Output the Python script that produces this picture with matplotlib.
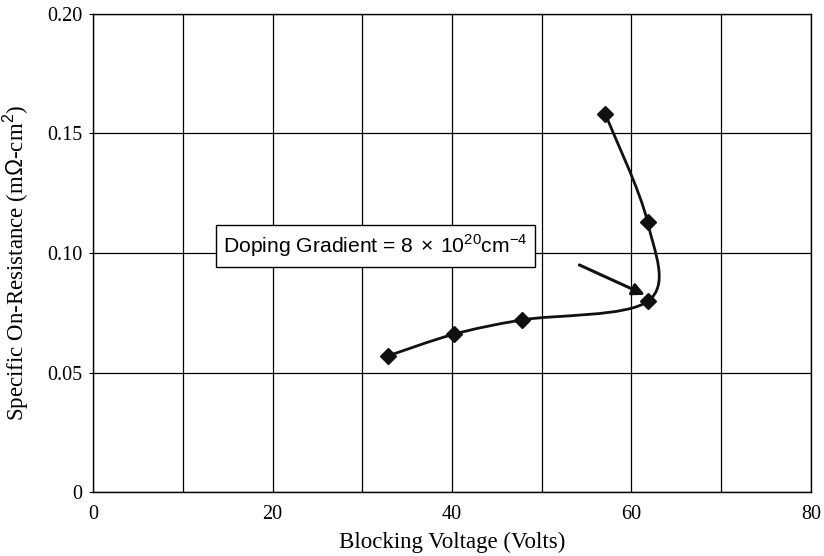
import numpy as np
import matplotlib
matplotlib.use("Agg")
import matplotlib.pyplot as plt
from matplotlib.path import Path
from matplotlib.patches import PathPatch

# data
blocking_voltage = [32.9, 40.2, 47.8, 61.9, 61.8, 57.1]
on_resistance = [0.057, 0.066, 0.072, 0.080, 0.113, 0.158]
x_ticks = [0, 20, 40, 60, 80]
y_ticks = [0, 0.05, 0.10, 0.15, 0.20]
y_tick_labels = ["0", "0.05", "0.10", "0.15", "0.20"]
note = r"Doping Gradient = 8$\,\times\,$10$^{20}$cm$^{-4}$"


def smooth_path(xs, ys):
    # catmull-rom curve through the points, drawn as cubic bezier segments
    p = np.column_stack([xs, ys])
    pts = np.vstack([p[0], p, p[-1]])
    verts = [p[0]]
    codes = [Path.MOVETO]
    for i in range(1, len(pts) - 2):
        c1 = pts[i] + (pts[i + 1] - pts[i - 1]) / 6.0
        c2 = pts[i + 1] - (pts[i + 2] - pts[i]) / 6.0
        verts += [c1, c2, pts[i + 1]]
        codes += [Path.CURVE4] * 3
    return Path(verts, codes)


plt.rcParams['font.family'] = ['Liberation Serif', 'DejaVu Serif']
plt.rcParams['mathtext.fontset'] = 'custom'
plt.rcParams['mathtext.rm'] = 'Liberation Sans'

fig = plt.figure(figsize=(8.24, 5.56), dpi=100)
ax = fig.add_axes([0.113, 0.115, 0.871, 0.860])

ax.add_patch(PathPatch(smooth_path(blocking_voltage, on_resistance),
                       fill=False, lw=2.0, edgecolor='#111111', zorder=3))
ax.plot(blocking_voltage, on_resistance, 'D', color='#111111', markersize=8.5, zorder=4)

ax.set_xlim(0, 80)
ax.set_ylim(0, 0.20)
ax.set_xticks(x_ticks)
ax.set_xticks([10, 30, 50, 70], minor=True)
ax.set_yticks(y_ticks)
ax.set_yticklabels(y_tick_labels)
ax.grid(True, which='both', color='black', lw=0.9)
ax.set_axisbelow(True)
ax.tick_params(axis='x', which='both', length=0, labelsize=14.5, pad=9)
ax.tick_params(axis='y', length=3, labelsize=14.5, pad=5)
for s in ax.spines.values():
    s.set_linewidth(1.0)

ax.set_xlabel("Blocking Voltage (Volts)", fontsize=16.5, labelpad=6)
ax.set_ylabel(r"Specific On-Resistance (m$\Omega$-cm$^2$)", fontsize=16.5)
ax.yaxis.set_label_coords(-0.086, 0.48)

ax.text(14.5, 0.1029, note, fontsize=15.2, family=['Liberation Sans', 'DejaVu Sans'],
        va='center', ha='left', zorder=5,
        bbox=dict(boxstyle='square,pad=0.35', facecolor='white', edgecolor='black', lw=1.0))

ax.annotate("", xy=(61.5, 0.0825), xytext=(54.2, 0.095),
            arrowprops=dict(arrowstyle='-|>', color='#111111', lw=2.2,
                            mutation_scale=18, shrinkA=0, shrinkB=0), zorder=5)

fig.savefig("out.png", dpi=100)
